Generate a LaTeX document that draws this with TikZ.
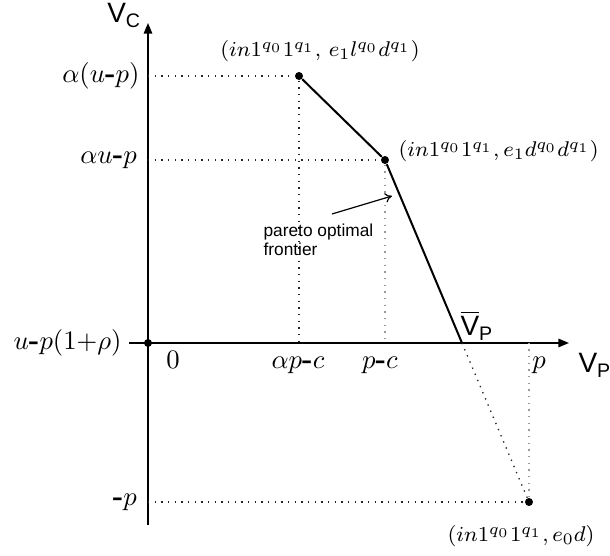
\documentclass[tikz,border=0pt]{standalone}
\usepackage{amsmath}
\usepackage{fontspec}
\setsansfont{Liberation Sans}
\usetikzlibrary{arrows.meta,positioning}
\newcommand{\hy}{\mbox{\bfseries -}}
\tikzset{
  axis/.style={line width=.55pt,-{Triangle[length=4pt,width=3.2pt]}},
  frontier/.style={line width=.75pt},
  guide/.style={dotted,line width=.5pt,black!85},
  guidegray/.style={dotted,line width=.5pt,black!40},
  dot/.style={circle,fill,inner sep=0pt,minimum size=3pt},
  ticklab/.style={inner sep=0pt,font=\fontsize{10.4}{12}\selectfont},
  ptlab/.style={inner sep=0pt,font=\fontsize{8.1}{9.5}\selectfont},
  axlab/.style={inner sep=0pt,font=\sffamily\fontsize{10.5}{12}\selectfont},
  note/.style={inner sep=0pt,font=\sffamily\fontsize{6.5}{7.2}\selectfont,align=left},
  pointer/.style={line width=.45pt,-{To[length=2.6pt,width=3.6pt]}},
}

\begin{document}
\begin{tikzpicture}[x=.375pt,y=.375pt]
  \useasboundingbox (-148,-213) rectangle (462,343);
  % axes
  \coordinate (xs) at (-19,0);
  \coordinate (xe) at (421,0);
  \coordinate (ys) at (0,-182);
  \coordinate (ye) at (0,320);
  \draw[axis] (xs) -- (xe);
  \draw[axis] (ys) -- (ye);
  % outcomes
  \node[dot] (O) at (0,0) {};
  \node[dot] (A) at (151,267) {};
  \node[dot] (B) at (237,183) {};
  \coordinate (D) at (314,0);
  \node[dot] (C) at (381,-159) {};
  % guide lines
  \coordinate (ya) at (0,267);
  \coordinate (yb) at (0,183);
  \coordinate (yc) at (0,-159);
  \coordinate (xa) at (151,0);
  \coordinate (xb) at (237,0);
  \coordinate (xc) at (381,0);
  \draw[guide] (ya) -- (A) -- (xa);
  \draw[guide] (yb) -- (B);
  \draw[guidegray] (B) -- (xb);
  \draw[guide] (yc) -- (C);
  \draw[guidegray] (C) -- (xc);
  \draw[guide] (D) -- (C);
  % frontier
  \draw[frontier] (A) -- (B) -- (D);
  % tick labels
  \node[ticklab,left=3pt of ya] (lab-ya) {$\alpha(u\hy p)$};
  \node[ticklab,left=4pt of yb] (lab-yb) {$\alpha u\hy p$};
  \node[ticklab,left=8pt of O] (lab-o) {$u\hy p(1{+}\rho)$};
  \node[ticklab,left=4pt of yc] (lab-yc) {$\hy p$};
  \node[ticklab,anchor=base] (lab-0) at (25,-26) {$0$};
  \node[ticklab,anchor=base] (lab-xa) at (150,-26) {$\alpha p\hy c$};
  \node[ticklab,anchor=base] (lab-xb) at (232,-26) {$p\hy c$};
  \node[ticklab,anchor=base] (lab-xc) at (391,-26) {$p$};
  % axis names
  \node[axlab,anchor=base east] (vc) at (-6,320) {V\textsubscript{C}};
  \node[axlab,anchor=base west] (vp) at (430,-30) {V\textsubscript{P}};
  \node[axlab,anchor=base west] (vpbar) at (312,7) {$\overline{\mbox{\sffamily V}}$\textsubscript{P}};
  % point labels
  \node[ptlab,anchor=base] (lab-a) at (172,286) {$(in1^{q_0}1^{q_1},\, e_1l^{q_0}d^{q_1})$};
  \node[ptlab,anchor=base west] (lab-b) at (250,186) {$(in1^{q_0}1^{q_1}, e_1d^{q_0}d^{q_1})$};
  \node[ptlab,anchor=base east] (lab-c) at (447,-199) {$(in1^{q_0}1^{q_1}, e_0d)$};
  % frontier note
  \node[note,anchor=west] (pareto) at (115,103) {pareto optimal\\frontier};
  \coordinate (tail) at (184,129);
  \coordinate (head) at (244,147);
  \draw[pointer] (tail) -- (head);
\end{tikzpicture}
\end{document}
